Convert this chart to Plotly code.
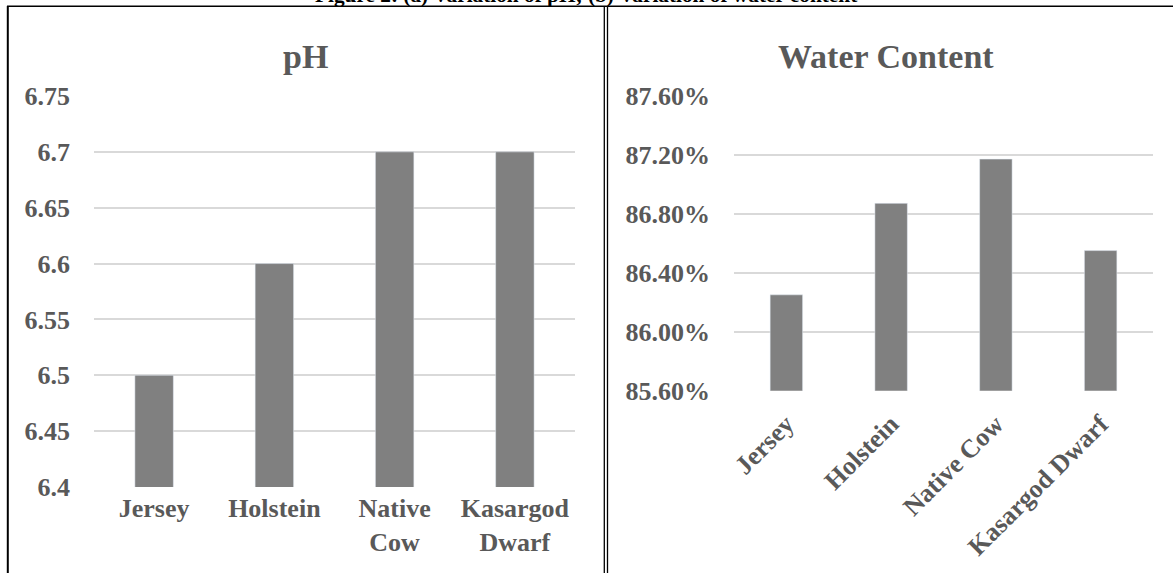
import plotly.graph_objects as go

# Milk properties by cattle breed
breeds_ph = ["Jersey", "Holstein", "Native<br>Cow", "Kasargod<br>Dwarf"]
breeds_water = ["Jersey", "Holstein", "Native Cow", "Kasargod Dwarf"]
ph_values = [6.5, 6.6, 6.7, 6.7]
water_content = [0.8625, 0.8687, 0.8717, 0.8655]

W, H = 1173, 573
SERIF = "Liberation Serif"
TEXT_GREY = "#595959"
BAR_GREY = "#808080"
GRID_GREY = "#d9d9d9"


def px_x(p):
    return p / W


def px_y(p):
    return 1 - p / H


fig = go.Figure()
fig.add_trace(go.Bar(x=breeds_ph, y=ph_values, marker_color=BAR_GREY, width=0.32,
                     xaxis="x", yaxis="y", showlegend=False))
fig.add_trace(go.Bar(x=breeds_water, y=water_content, marker_color=BAR_GREY, width=0.31,
                     xaxis="x2", yaxis="y2", showlegend=False))

tick_font = dict(family=SERIF, size=26, color=TEXT_GREY, weight="bold")
common = dict(automargin=False, showline=False, ticks="", zeroline=False)

fig.update_layout(
    width=W, height=H,
    margin=dict(l=0, r=0, t=0, b=0, autoexpand=False),
    paper_bgcolor="white", plot_bgcolor="white",
    xaxis=dict(domain=[px_x(94), px_x(575)], anchor="y", tickfont=tick_font,
               showgrid=False, ticklabelstandoff=3, **common),
    yaxis=dict(domain=[px_y(487), px_y(96)], anchor="x", range=[6.4, 6.75], dtick=0.05,
               tickfont=tick_font, gridcolor=GRID_GREY, gridwidth=1.5,
               ticklabelstandoff=23, **common),
    xaxis2=dict(domain=[px_x(734), px_x(1153)], anchor="y2", tickfont=tick_font,
                tickangle=-45, showgrid=False, ticklabelstandoff=12, **common),
    yaxis2=dict(domain=[px_y(390.7), px_y(95.7)], anchor="x2", range=[0.856, 0.876],
                dtick=0.004, tickformat=".2%", tickfont=tick_font, gridcolor=GRID_GREY,
                gridwidth=1.5, ticklabelstandoff=23, **common),
)

# Chart titles
title_font = dict(family=SERIF, size=34, color=TEXT_GREY, weight="bold")
fig.add_annotation(text="pH", x=px_x(305), y=px_y(57), xref="paper", yref="paper",
                   showarrow=False, xanchor="center", yanchor="middle", font=title_font)
fig.add_annotation(text="Water Content", x=px_x(886), y=px_y(57), xref="paper", yref="paper",
                   showarrow=False, xanchor="center", yanchor="middle", font=title_font)

# Figure caption along the top edge
fig.add_annotation(text="Figure 2: (a) Variation of pH; (b) Variation of water content",
                   x=px_x(586), y=px_y(-5), xref="paper", yref="paper",
                   showarrow=False, xanchor="center", yanchor="middle",
                   font=dict(family=SERIF, size=21.3, color="black", weight="bold"))

# Panel frames
frame = dict(xref="paper", yref="paper", type="line")
fig.add_shape(**frame, x0=px_x(7), x1=1, y0=px_y(6.3), y1=px_y(6.3),
              line=dict(color="black", width=1.5))
fig.add_shape(**frame, x0=px_x(7.8), x1=px_x(7.8), y0=px_y(6), y1=0,
              line=dict(color="black", width=2))
fig.add_shape(**frame, x0=px_x(604.3), x1=px_x(604.3), y0=px_y(6), y1=0,
              line=dict(color="black", width=1.3))
fig.add_shape(**frame, x0=px_x(607.5), x1=px_x(607.5), y0=px_y(6), y1=0,
              line=dict(color="black", width=1.3))

fig.write_html("out.html")
